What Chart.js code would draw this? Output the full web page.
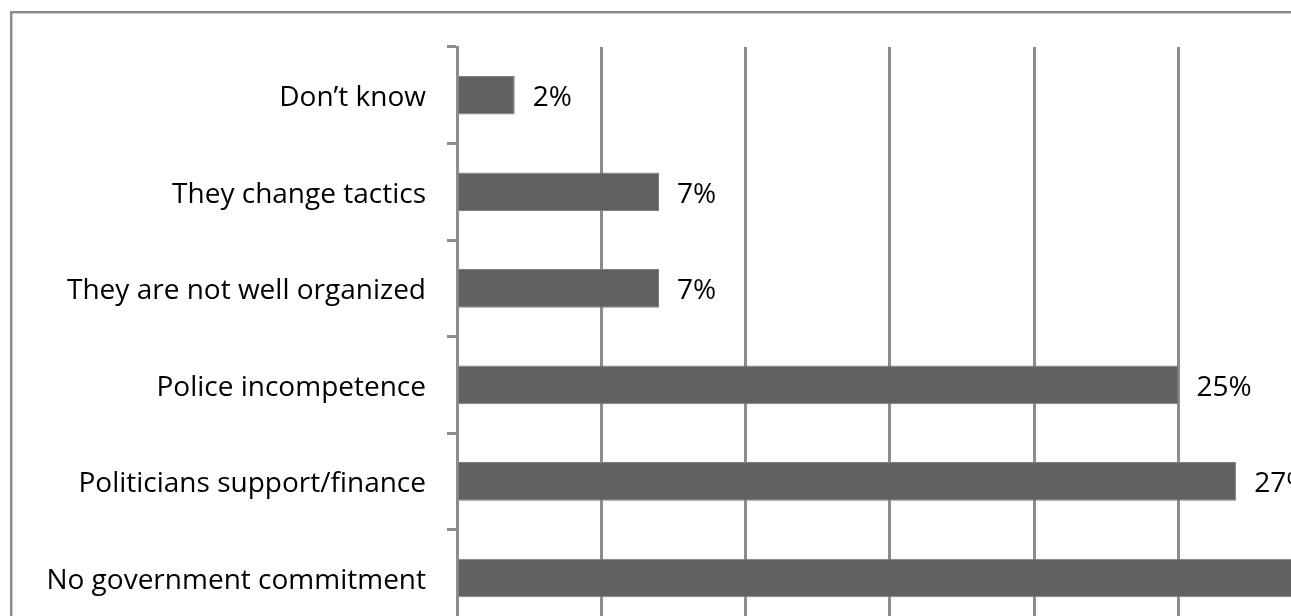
<!DOCTYPE html>
<html>
<head>
<meta charset="utf-8">
<script src="https://cdn.jsdelivr.net/npm/chart.js@4"></script>
<style>
  html, body { margin: 0; padding: 0; background: #fff; overflow: hidden; }
  #wrap { position: absolute; left: 0; top: 0; }
</style>
</head>
<body>
<div id="wrap"><canvas id="barChart" width="1480" height="664"></canvas></div>
<script>
  // reasons given, top to bottom
  var categories = [
    "Don\u2019t know",
    "They change tactics",
    "They are not well organized",
    "Police incompetence",
    "Politicians support/finance",
    "No government commitment",
  ];
  var shares = [2, 7, 7, 25, 27, 33];
  var xTicks = [0, 5, 10, 15, 20, 25, 30, 35];

  var gridGrey = "#8c8c8c";
  var fontFamily = "'Open Sans', Lato, sans-serif";

  // outer frame of the chart
  var framePlugin = {
    id: "frame",
    beforeDraw: function (chart) {
      var c = chart.ctx;
      c.save();
      c.strokeStyle = gridGrey;
      c.lineWidth = 2.5;
      c.strokeRect(11.2, 12.2, chart.width + 50, chart.height + 50);
      c.restore();
    },
  };

  // percentage next to each bar
  var valueLabels = {
    id: "valueLabels",
    afterDatasetsDraw: function (chart) {
      var c = chart.ctx;
      var meta = chart.getDatasetMeta(0);
      c.save();
      c.font = "28px " + fontFamily;
      c.fillStyle = "#000";
      c.textAlign = "left";
      c.textBaseline = "middle";
      meta.data.forEach(function (bar, i) {
        c.fillText(shares[i] + "%", bar.x + 18, bar.y + 3);
      });
      c.restore();
    },
  };

  var ctx = document.getElementById("barChart");
  var myChart = new Chart(ctx, {
    type: "bar",
    data: {
      labels: categories,
      datasets: [
        {
          data: shares,
          backgroundColor: "#616161",
          borderColor: "#7e7e7e",
          borderWidth: 1,
          barPercentage: 0.4,
          categoryPercentage: 1,
        },
      ],
    },
    options: {
      indexAxis: "y",
      responsive: false,
      animation: false,
      layout: { padding: { top: 47, right: 13, bottom: 13, left: 0 } },
      plugins: { legend: { display: false }, tooltip: { enabled: false } },
      scales: {
        x: {
          min: xTicks[0],
          max: xTicks[xTicks.length - 1],
          afterBuildTicks: function (scale) {
            scale.ticks = xTicks.map(function (v) { return { value: v }; });
          },
          afterFit: function (scale) { scale.height = 0; },
          ticks: { display: false },
          grid: { color: gridGrey, lineWidth: 3, drawTicks: false },
          border: { display: false },
        },
        y: {
          afterFit: function (scale) { scale.width = 457; },
          ticks: {
            color: "#000",
            padding: 21,
            labelOffset: 3,
            font: { family: fontFamily, size: 28 },
          },
          grid: {
            offset: true,
            drawOnChartArea: false,
            drawTicks: true,
            tickLength: 10,
            color: gridGrey,
            lineWidth: 3,
          },
          border: { display: true, color: gridGrey, width: 3 },
        },
      },
    },
    plugins: [framePlugin, valueLabels],
  });
</script>
</body>
</html>
